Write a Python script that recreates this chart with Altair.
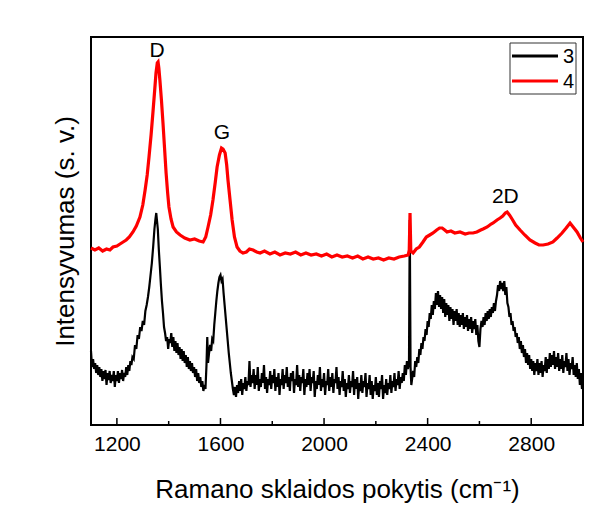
import altair as alt
import pandas as pd

# Series "3" (black): (Raman shift cm^-1, intensity a.u.)
black_points = [
    (1100, 74), (1104, 58), (1108, 66), (1112, 56), (1116, 62), (1120, 52), (1124, 60), (1128, 50),
    (1132, 58), (1136, 48), (1140, 56), (1144, 44), (1148, 54), (1152, 46), (1156, 55), (1160, 40),
    (1164, 52), (1168, 45), (1172, 54), (1176, 42), (1180, 50), (1184, 44), (1188, 54), (1192, 38),
    (1196, 50), (1200, 44), (1204, 54), (1208, 42), (1212, 52), (1216, 46), (1220, 55), (1224, 44),
    (1228, 52), (1232, 48), (1236, 58), (1240, 50), (1244, 60), (1248, 54), (1252, 64), (1256, 60),
    (1260, 68), (1265, 66), (1270, 80), (1275, 76), (1280, 90), (1285, 86), (1290, 98), (1295, 94),
    (1300, 104), (1305, 100), (1310, 114), (1315, 120), (1320, 128), (1325, 138), (1330, 150),
    (1335, 162), (1340, 178), (1345, 196), (1349, 206), (1352, 212), (1355, 204), (1358, 196),
    (1362, 175), (1366, 158), (1370, 140), (1374, 124), (1378, 112), (1382, 98), (1386, 92),
    (1390, 84), (1394, 88), (1398, 76), (1402, 86), (1406, 82), (1410, 92), (1414, 78), (1418, 88),
    (1422, 74), (1426, 84), (1430, 72), (1434, 82), (1438, 70), (1442, 78), (1446, 66), (1450, 76),
    (1454, 64), (1458, 74), (1462, 62), (1466, 70), (1470, 58), (1474, 68), (1478, 56), (1482, 64),
    (1486, 54), (1490, 62), (1494, 52), (1498, 58), (1502, 48), (1506, 56), (1510, 44), (1514, 52),
    (1518, 42), (1522, 48), (1526, 38), (1530, 44), (1534, 34), (1538, 40), (1542, 36), (1546, 60),
    (1549, 88), (1552, 62), (1556, 72), (1560, 80), (1564, 74), (1568, 86), (1572, 84), (1576, 100),
    (1580, 112), (1584, 124), (1588, 134), (1592, 142), (1596, 148), (1600, 150), (1604, 144),
    (1608, 146), (1612, 132), (1616, 120), (1620, 108), (1624, 96), (1628, 84), (1632, 72),
    (1636, 62), (1640, 52), (1644, 44), (1648, 36), (1652, 30), (1656, 38), (1660, 28), (1664, 40),
    (1668, 32), (1672, 44), (1676, 34), (1680, 46), (1684, 30), (1688, 42), (1692, 36), (1696, 48),
    (1700, 34), (1704, 44), (1708, 40), (1712, 64), (1716, 38), (1720, 50), (1724, 42), (1728, 56),
    (1732, 36), (1736, 50), (1740, 40), (1744, 58), (1748, 34), (1752, 46), (1756, 38), (1760, 52),
    (1764, 42), (1768, 60), (1772, 36), (1776, 48), (1780, 32), (1784, 46), (1788, 40), (1792, 54),
    (1796, 36), (1800, 50), (1804, 42), (1808, 56), (1812, 34), (1816, 48), (1820, 38), (1824, 52),
    (1828, 30), (1832, 46), (1836, 40), (1840, 56), (1844, 36), (1848, 50), (1852, 42), (1856, 58),
    (1860, 38), (1864, 48), (1868, 34), (1872, 52), (1876, 44), (1880, 54), (1884, 32), (1888, 46),
    (1892, 40), (1896, 60), (1900, 38), (1904, 50), (1908, 34), (1912, 48), (1916, 42), (1920, 56),
    (1924, 30), (1928, 46), (1932, 38), (1936, 52), (1940, 40), (1944, 56), (1948, 34), (1952, 48),
    (1956, 42), (1960, 54), (1964, 28), (1968, 44), (1972, 36), (1976, 50), (1980, 40), (1984, 58),
    (1988, 34), (1992, 46), (1996, 38), (2000, 52), (2004, 30), (2008, 44), (2012, 40), (2016, 56),
    (2020, 34), (2024, 48), (2028, 38), (2032, 52), (2036, 32), (2040, 46), (2044, 42), (2048, 58),
    (2052, 36), (2056, 48), (2060, 30), (2064, 44), (2068, 38), (2072, 54), (2076, 34), (2080, 46),
    (2084, 28), (2088, 42), (2092, 36), (2096, 50), (2100, 32), (2104, 44), (2108, 38), (2112, 54),
    (2116, 30), (2120, 46), (2124, 36), (2128, 48), (2132, 26), (2136, 42), (2140, 34), (2144, 50),
    (2148, 32), (2152, 44), (2156, 38), (2160, 52), (2164, 28), (2168, 42), (2172, 36), (2176, 50),
    (2180, 30), (2184, 44), (2188, 26), (2192, 40), (2196, 34), (2200, 48), (2204, 30), (2208, 42),
    (2212, 28), (2216, 44), (2220, 36), (2224, 50), (2228, 26), (2232, 40), (2236, 32), (2240, 46),
    (2244, 30), (2248, 42), (2252, 36), (2256, 50), (2260, 32), (2264, 44), (2268, 38), (2272, 52),
    (2276, 34), (2280, 46), (2284, 40), (2288, 54), (2292, 36), (2296, 48), (2300, 42), (2304, 52),
    (2308, 44), (2312, 60), (2316, 50), (2320, 64), (2324, 56), (2328, 62), (2331, 205), (2334, 58),
    (2337, 40), (2340, 46), (2344, 54), (2348, 48), (2352, 64), (2356, 58), (2360, 68), (2364, 62),
    (2368, 76), (2372, 70), (2376, 82), (2380, 76), (2384, 88), (2388, 84), (2392, 96), (2396, 90),
    (2400, 104), (2404, 98), (2408, 112), (2412, 106), (2416, 120), (2420, 110), (2424, 124),
    (2428, 116), (2432, 132), (2436, 120), (2440, 134), (2444, 118), (2448, 130), (2452, 116),
    (2456, 128), (2460, 112), (2464, 126), (2468, 108), (2472, 122), (2476, 110), (2480, 120),
    (2484, 104), (2488, 118), (2492, 106), (2496, 116), (2500, 100), (2504, 114), (2508, 104),
    (2512, 116), (2516, 100), (2520, 112), (2524, 98), (2528, 110), (2532, 100), (2536, 112),
    (2540, 96), (2544, 108), (2548, 98), (2552, 110), (2556, 94), (2560, 106), (2564, 96),
    (2568, 108), (2572, 92), (2576, 104), (2580, 96), (2584, 106), (2588, 90), (2592, 100),
    (2596, 84), (2600, 78), (2604, 96), (2608, 104), (2612, 98), (2616, 108), (2620, 100),
    (2624, 112), (2628, 104), (2632, 114), (2636, 106), (2640, 116), (2644, 108), (2648, 118),
    (2652, 112), (2656, 122), (2660, 114), (2664, 124), (2668, 130), (2672, 140), (2676, 134),
    (2680, 144), (2684, 136), (2688, 142), (2692, 134), (2696, 144), (2700, 130), (2704, 138),
    (2708, 122), (2712, 118), (2716, 108), (2720, 112), (2724, 100), (2728, 104), (2732, 94),
    (2736, 98), (2740, 88), (2744, 92), (2748, 82), (2752, 88), (2756, 76), (2760, 84), (2764, 72),
    (2768, 80), (2772, 68), (2776, 76), (2780, 62), (2784, 72), (2788, 60), (2792, 70), (2796, 56),
    (2800, 66), (2804, 54), (2808, 64), (2812, 50), (2816, 62), (2820, 54), (2824, 66), (2828, 50),
    (2832, 62), (2836, 52), (2840, 64), (2844, 48), (2848, 60), (2852, 54), (2856, 68), (2860, 52),
    (2864, 66), (2868, 56), (2872, 72), (2876, 58), (2880, 70), (2884, 60), (2888, 74), (2892, 56),
    (2896, 68), (2900, 58), (2904, 72), (2908, 54), (2912, 66), (2916, 56), (2920, 70), (2924, 52),
    (2928, 64), (2932, 58), (2936, 72), (2940, 54), (2944, 66), (2948, 50), (2952, 62), (2956, 56),
    (2960, 68), (2964, 50), (2968, 60), (2972, 48), (2976, 62), (2980, 46), (2984, 56), (2988, 40),
    (2992, 52), (2996, 36), (3000, 44),
]

# Series "4" (red)
x4 = [1100, 1115, 1130, 1145, 1160, 1173, 1185, 1200, 1212, 1224, 1236, 1248, 1262, 1275, 1289, 1300,
      1309, 1317, 1324, 1332, 1339, 1346, 1351, 1356, 1359, 1362, 1366, 1372, 1378, 1384, 1390, 1396,
      1401, 1409, 1417, 1430, 1444, 1462, 1482, 1500, 1518, 1533, 1543, 1552, 1562, 1571, 1580, 1587,
      1596, 1604, 1610, 1618, 1624, 1629, 1637, 1645, 1654, 1664, 1675, 1687, 1700, 1712, 1726, 1740,
      1753, 1770, 1791, 1810, 1830, 1850, 1870, 1890, 1910, 1930, 1950, 1970, 1990, 2010, 2030, 2050,
      2070, 2090, 2110, 2130, 2150, 2170, 2190, 2210, 2230, 2250, 2270, 2290, 2310, 2325, 2329, 2332,
      2335, 2344, 2356, 2368, 2382, 2395, 2408, 2421, 2435, 2446, 2456, 2466, 2475, 2490, 2505, 2525,
      2545, 2560, 2575, 2590, 2605, 2614, 2630, 2645, 2653, 2668, 2680, 2690, 2700, 2707, 2716, 2726,
      2740, 2757, 2775, 2795, 2815, 2830, 2846, 2865, 2884, 2900, 2919, 2935, 2950, 2962, 2977, 2990,
      3000]
y4 = [177, 175, 177, 174, 176, 175, 178, 179, 181, 183, 185, 188, 193, 199, 208, 220,
      235, 250, 268, 290, 312, 335, 352, 362, 363, 357, 345, 325, 302, 277, 252, 232,
      218, 206, 198, 193, 190, 187, 185, 186, 184, 183, 188, 198, 210, 225, 243, 258,
      270, 277, 276, 272, 260, 245, 225, 205, 188, 178, 174, 172, 173, 176, 175, 173,
      172, 174, 171, 173, 170, 172, 171, 173, 170, 172, 170, 171, 169, 171, 168, 170,
      168, 169, 167, 169, 166, 168, 166, 167, 165, 167, 166, 168, 169, 170, 175, 212,
      174, 172, 176, 178, 183, 188, 190, 192, 195, 197, 197, 195, 193, 194, 192, 193,
      191, 192, 192, 193, 195, 196, 198, 201, 202, 205, 207, 209, 212, 213, 210, 206,
      200, 195, 190, 185, 182, 180, 180, 181, 183, 187, 192, 197, 202, 198, 193, 187,
      183]

series = ["3", "4"]
colors = ["#000000", "#ff0000"]

peak_labels = ["D", "G", "2D"]
peak_x = [1355, 1606, 2700]
peak_y = [374, 292, 228]

major_ticks = [1200, 1600, 2000, 2400, 2800]
minor_ticks = [1400, 1800, 2200, 2600]

FONT = "Liberation Sans"

x3 = [p[0] for p in black_points]
y3 = [p[1] for p in black_points]
df3 = pd.DataFrame({"x": x3, "y": y3, "s": series[0]})
df4 = pd.DataFrame({"x": x4, "y": y4, "s": series[1]})
dfl = pd.DataFrame({"x": peak_x, "y": peak_y, "t": peak_labels})
dmaj = pd.DataFrame({"x": major_ticks})
dmin = pd.DataFrame({"x": minor_ticks})

xscale = alt.Scale(domain=[1100, 3000], nice=False, zero=False)
yscale = alt.Scale(domain=[0, 388], nice=False, zero=False)
cscale = alt.Scale(domain=series, range=colors)

xaxis = alt.Axis(values=major_ticks, format="d", title="Ramano sklaidos pokytis (cm⁻¹)", ticks=False,
                 tickSize=0, domain=False, grid=False, labelFont=FONT, labelFontSize=21,
                 labelColor="black", labelPadding=8, titleFont=FONT, titleFontSize=26,
                 titleFontWeight="normal", titleColor="black", titleY=64, titleBaseline="middle")
yaxis = alt.Axis(labels=False, ticks=False, domain=False, grid=False, title="Intensyvumas (s. v.)",
                 titleFont=FONT, titleFontSize=26, titleFontWeight="normal", titleColor="black",
                 titleX=-26, titleBaseline="middle", titleAngle=-90)

line3 = alt.Chart(df3).mark_line(strokeWidth=2.2, strokeJoin="miter").encode(
    x=alt.X("x:Q", scale=xscale, axis=xaxis),
    y=alt.Y("y:Q", scale=yscale, axis=yaxis),
    color=alt.Color("s:N", scale=cscale, legend=None),
)
line4 = alt.Chart(df4).mark_line(strokeWidth=3.2).encode(
    x=alt.X("x:Q", scale=xscale),
    y=alt.Y("y:Q", scale=yscale),
    color=alt.Color("s:N", scale=cscale, legend=None),
)
labels = alt.Chart(dfl).mark_text(font=FONT, fontSize=21, color="black", baseline="middle").encode(
    x=alt.X("x:Q", scale=xscale),
    y=alt.Y("y:Q", scale=yscale),
    text="t:N",
)
tmaj = alt.Chart(dmaj).mark_rule(color="black", strokeWidth=1.5).encode(
    x=alt.X("x:Q", scale=xscale), y=alt.value(388), y2=alt.value(381)
)
tmin = alt.Chart(dmin).mark_rule(color="black", strokeWidth=1.5).encode(
    x=alt.X("x:Q", scale=xscale), y=alt.value(388), y2=alt.value(384)
)

# legend box (drawn by hand, inside the plot's upper-right corner)
leg_df = pd.DataFrame({"s": series})
leg_box = alt.Chart(leg_df.head(1)).mark_rect(fill="white", stroke="#333333", strokeWidth=1).encode(
    x=alt.value(419), x2=alt.value(485), y=alt.value(6), y2=alt.value(57)
)
leg_parts = []
for i, (s, c) in enumerate(zip(series, colors)):
    row = alt.Chart(leg_df[leg_df.s == s])
    yy = 19 + 25 * i
    leg_parts.append(row.mark_rule(color=c, strokeWidth=3).encode(
        x=alt.value(421), x2=alt.value(467), y=alt.value(yy)))
    leg_parts.append(row.mark_text(font=FONT, fontSize=20, color="black", align="left",
                                   baseline="middle").encode(
        x=alt.value(472), y=alt.value(yy + 1), text="s:N"))

chart = alt.layer(line3, line4, labels, tmaj, tmin, leg_box, *leg_parts).properties(
    width=492, height=388,
    autosize=alt.AutoSizeParams(type="none"),
    padding={"left": 91, "top": 37, "right": 19, "bottom": 101},
    background="white",
).configure_view(stroke="black", strokeWidth=2)

chart.save("out.html", embed_options={"renderer": "svg", "actions": False})
